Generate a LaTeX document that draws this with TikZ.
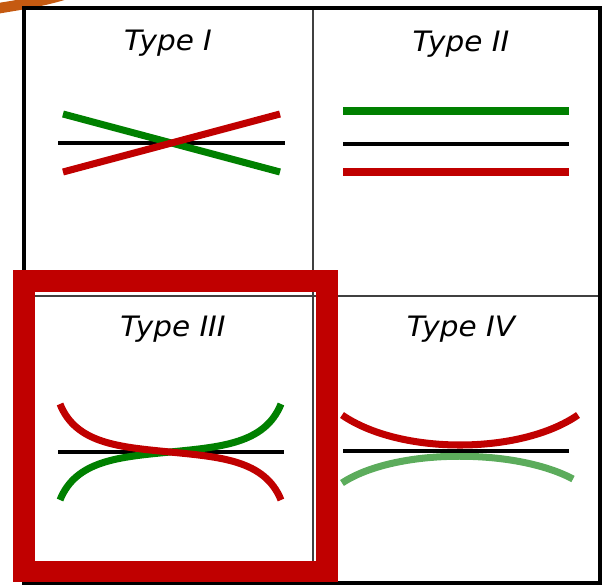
\documentclass[tikz,border=0pt]{standalone}
\usepackage{xcolor}
\usepackage{fontspec}
\usepackage{tikz}
\newfontfamily\typefont[FakeStretch=1.05]{DejaVu Sans}

\definecolor{curvered}{HTML}{C00000}
\definecolor{curvegreen}{HTML}{008000}
\definecolor{palegreen}{RGB}{92,172,92}
\definecolor{gridgray}{HTML}{404040}
\definecolor{markorange}{HTML}{C55A11}

\begin{document}
\begin{tikzpicture}[x=0.02cm, y=-0.02cm,
  typelabel/.style={anchor=base, inner sep=0pt, font=\typefont\itshape\fontsize{16}{19}\selectfont},
  refline/.style={draw=black, line width=1.8pt},
  greenline/.style={draw=curvegreen, line width=4pt},
  redline/.style={draw=curvered, line width=4pt},
  gridline/.style={draw=gridgray, line width=1.1pt}]
\useasboundingbox (0,0) rectangle (602,585);

\draw[markorange, line width=6pt] (-6,9) .. controls (25,4) and (50,0) .. (75,-9);

\coordinate (nw) at (24,8);
\coordinate (se) at (600,583);
\coordinate (midtop) at (313,8);
\coordinate (midbot) at (313,583);
\coordinate (midleft) at (24,296);
\coordinate (midright) at (600,296);
\draw[gridline] (midtop) -- (midbot);
\draw[gridline] (midleft) -- (midright);
\draw[black, line width=1.8pt] (nw) rectangle (se);

\node (typeI) [typelabel] at (168,50) {Type I};
\node (typeII) [typelabel] at (461,51) {Type II};
\node (typeIII) [typelabel] at (173,336) {Type III};
\node (typeIV) [typelabel] at (461,336) {Type IV};

\draw[refline] (58,143) -- (285,143);
\draw[greenline] (63,114) -- (280,172);
\draw[redline] (63,172) -- (280,114);

\draw[greenline] (343,111) -- (569,111);
\draw[refline] (343,144) -- (569,144);
\draw[redline] (343,172) -- (569,172);

\draw[refline] (58,452) -- (284,452);
\draw[greenline] (60,500) .. controls (76,460) and (120,457) .. (170,452) .. controls (220,447) and (265,444) .. (281,404);
\draw[redline] (60,404) .. controls (76,444) and (120,447) .. (170,452) .. controls (220,457) and (265,460) .. (281,500);

\draw[redline] (342,415) .. controls (400,455) and (520,455) .. (578,415);
\draw[greenline, draw=palegreen] (342,483) .. controls (395,448) and (515,448) .. (573,479);
\draw[refline] (343,451) -- (569,451);

\draw[curvered, line width=12.5pt] (24,281) rectangle (327,571.5);
\end{tikzpicture}
\end{document}
